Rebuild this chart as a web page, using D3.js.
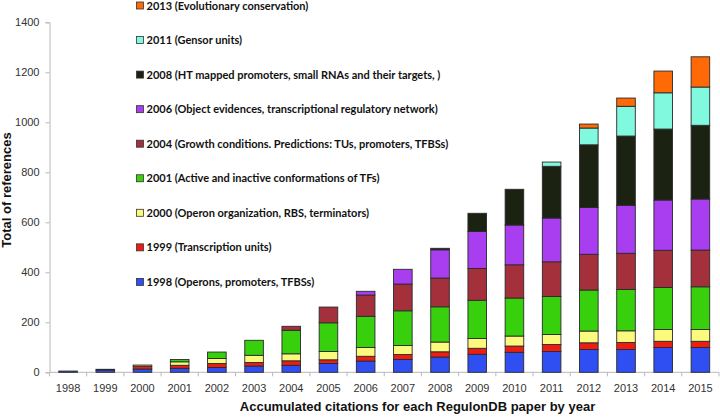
<!DOCTYPE html>
<html><head><meta charset="utf-8">
<script src="https://cdn.jsdelivr.net/npm/d3@7"></script>
<style>body{margin:0;background:#fff}svg{display:block}</style>
</head><body>
<svg id="c" width="720" height="420"></svg>
<script>
const years = ["1998","1999","2000","2001","2002","2003","2004","2005","2006","2007","2008","2009","2010","2011","2012","2013","2014","2015"];
const seriesKeys = ["p1998","p1999","p2000","p2001","p2004","p2006","p2008","p2011","p2013"];
const seriesLabels = [
  "1998 (Operons, promoters, TFBSs)",
  "1999 (Transcription units)",
  "2000 (Operon organization, RBS, terminators)",
  "2001 (Active and inactive conformations of TFs)",
  "2004 (Growth conditions. Predictions: TUs, promoters, TFBSs)",
  "2006 (Object evidences, transcriptional regulatory network)",
  "2008 (HT mapped promoters, small RNAs and their targets, )",
  "2011 (Gensor units)",
  "2013 (Evolutionary conservation)"
];
const seriesColors = ["#2f4ff2","#ee1d14","#fbf97e","#38cf0c","#a4303c","#a83ef0","#1b2212","#80f9de","#ff6a06"];
const p1998 = [5, 9, 13, 16, 19, 25, 28, 35, 45, 51, 61, 72, 80, 83, 91, 91, 99, 99];
const p1999 = [0, 3, 11, 12, 16, 14, 18, 15, 19, 20, 21, 24, 25, 28, 27, 28, 25, 25];
const p2000 = [0, 0, 5, 14, 20, 29, 28, 33, 35, 36, 39, 39, 40, 40, 47, 47, 47, 47];
const p2001 = [0, 0, 0, 9, 26, 60, 94, 115, 125, 139, 141, 153, 152, 152, 164, 165, 168, 171];
const p2004 = [0, 0, 0, 0, 0, 0, 16, 63, 85, 107, 115, 127, 133, 139, 143, 145, 149, 147];
const p2006 = [0, 0, 0, 0, 0, 0, 0, 0, 15, 59, 113, 148, 159, 175, 187, 192, 201, 204];
const p2008 = [0, 0, 0, 0, 0, 0, 0, 0, 0, 0, 6, 73, 143, 207, 251, 277, 284, 295];
const p2011 = [0, 0, 0, 0, 0, 0, 0, 0, 0, 0, 0, 0, 0, 17, 67, 119, 145, 153];
const p2013 = [0, 0, 0, 0, 0, 0, 0, 0, 0, 0, 0, 0, 0, 0, 16, 33, 87, 121];
const yTicks = [0,200,400,600,800,1000,1200,1400];
const yTitle = "Total of references";
const xTitle = "Accumulated citations for each RegulonDB paper by year";

const seriesValues = {p1998,p1999,p2000,p2001,p2004,p2006,p2008,p2011,p2013};
const table = years.map((y,i)=>{const r={year:y}; seriesKeys.forEach(k=>r[k]=seriesValues[k][i]); return r;});

const svg = d3.select("#c");
const x = d3.scaleBand().domain(years).range([49.5,719]).paddingInner(0.5).paddingOuter(0.25);
const y = d3.scaleLinear().domain([0,1400]).range([372.3,22.3]);

const stack = d3.stack().keys(seriesKeys)(table);
const color = d3.scaleOrdinal().domain(seriesKeys).range(seriesColors);

// axes
const yAxis = svg.append("g").attr("transform","translate(49.5,0)")
  .call(d3.axisLeft(y).tickValues(yTicks).tickFormat(d3.format("d")).tickSize(4).tickPadding(6));
yAxis.select(".domain").attr("stroke","#b8b8b8");
yAxis.selectAll(".tick line").attr("stroke","#b8b8b8");
yAxis.selectAll("text").attr("font-family","Liberation Sans, Arial").attr("font-size",11).attr("fill","#333");

const xAxisG = svg.append("g").attr("transform","translate(0,372.3)");
xAxisG.append("line").attr("x1",49.5).attr("x2",719).attr("stroke","#b8b8b8");
const step = x.step();
const bounds = years.map((d,i)=>x.range()[0]+i*step).concat([x.range()[0]+years.length*step]);
xAxisG.selectAll(".xt").data(bounds).join("line").attr("x1",d=>d).attr("x2",d=>d).attr("y1",0).attr("y2",4).attr("stroke","#b8b8b8");
xAxisG.selectAll(".xl").data(years).join("text")
  .attr("x",d=>x(d)+x.bandwidth()/2).attr("y",20)
  .attr("text-anchor","middle").attr("font-family","Liberation Sans, Arial").attr("font-size",11).attr("fill","#333")
  .text(d=>d);

// bars
svg.append("g").selectAll("g").data(stack).join("g").attr("fill",d=>color(d.key))
  .selectAll("rect").data(d=>d.filter(s=>s[1]-s[0]>0)).join("rect")
  .attr("x",d=>x(d.data.year)).attr("width",x.bandwidth())
  .attr("y",d=>y(d[1])).attr("height",d=>y(d[0])-y(d[1]))
  .attr("stroke","#2a2a2a").attr("stroke-width",0.9);

// legend
const leg = svg.append("g");
const legOrder = seriesKeys.map((k,i)=>i).reverse();
legOrder.forEach((si,j)=>{
  const cy = 5.5 + j*34.55;
  leg.append("rect").attr("x",136.5).attr("y",cy-3.5).attr("width",7).attr("height",7)
    .attr("fill",seriesColors[si]).attr("stroke","#333").attr("stroke-width",0.8);
  leg.append("text").attr("x",146.5).attr("y",cy+4)
    .attr("font-family","Lato, Open Sans, sans-serif").attr("font-weight","bold").attr("font-size",11).attr("fill","#111")
    .text(seriesLabels[si]);
});

// titles
svg.append("text").attr("x",417.5).attr("y",411).attr("text-anchor","middle")
  .attr("font-family","Liberation Sans, Arial").attr("font-weight","bold").attr("font-size",13).attr("fill","#111").text(xTitle);
svg.append("text").attr("transform","translate(10.5,190) rotate(-90)").attr("text-anchor","middle")
  .attr("font-family","Liberation Sans, Arial").attr("font-weight","bold").attr("font-size",13).attr("fill","#111").text(yTitle);
</script>
</body></html>
